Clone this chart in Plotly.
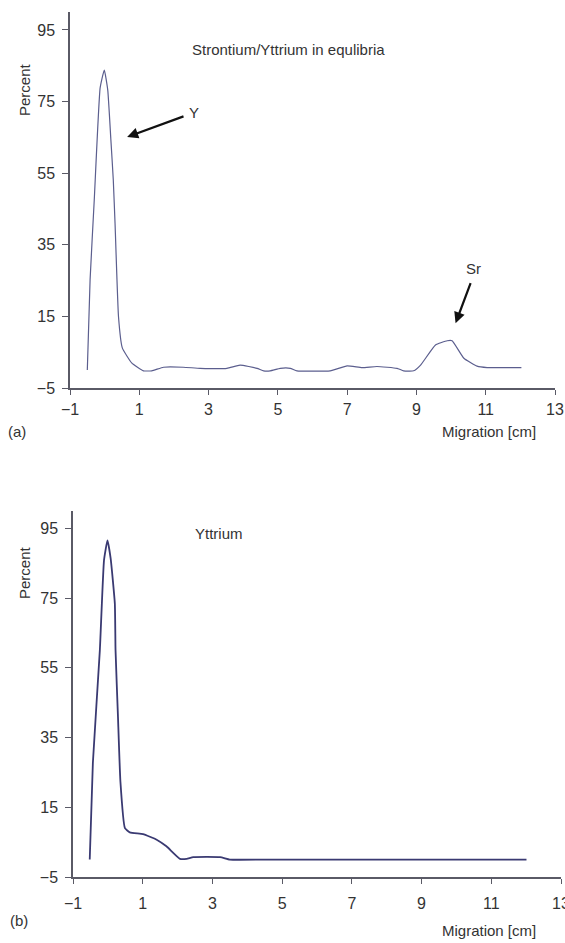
import plotly.graph_objects as go

# ---- data ----
top_x = [-0.5, -0.42, -0.3, -0.13, -0.01, 0.09, 0.18, 0.25, 0.30, 0.40, 0.51, 0.78, 1.12, 1.36, 1.70,
         2.27, 2.76, 3.53, 3.91, 4.40, 4.59, 4.78, 5.07, 5.36, 5.55, 6.51, 7.00, 7.43, 7.86, 8.44,
         8.63, 8.92, 9.12, 9.55, 9.89, 10.03, 10.37, 10.75, 11.04, 12.03]
top_y = [0, 25.2, 47.5, 78.8, 83.8, 78.2, 64.3, 53, 41, 14.9, 6.2, 2, -0.2, -0.2, 0.8,
         0.8, 0.5, 0.5, 1.4, 0.5, -0.2, -0.2, 0.5, 0.5, -0.2, -0.2, 1.2, 0.7, 1.0, 0.5,
         -0.2, -0.2, 1.4, 7.0, 8.2, 8.2, 3.3, 1.1, 0.7, 0.7]

bot_x = [-0.52, -0.43, -0.23, -0.11, -0.01, 0.08, 0.20, 0.22, 0.29, 0.36, 0.49, 0.63, 1.01, 1.40,
         1.68, 2.07, 2.26, 2.45, 3.22, 3.50, 4.5, 8.0, 12.01]
bot_y = [0, 27.7, 60.0, 85.9, 91.6, 86.4, 73.5, 60.1, 41, 22.4, 9.0, 7.8, 7.3, 5.7,
         3.8, 0.2, 0.2, 0.7, 0.7, 0, 0, 0, 0]

x_ticks = [-1, 1, 3, 5, 7, 9, 11, 13]
y_ticks = [-5, 15, 35, 55, 75, 95]

W, H = 565, 943
FONT = "Liberation Sans, Arial, Helvetica, sans-serif"
AX = "#5a5a66"
TXT = "#333333"


def px(x):
    return x / W


def py(y):
    return 1 - y / H


fig = go.Figure()
fig.add_trace(go.Scatter(x=top_x, y=top_y, mode="lines", xaxis="x", yaxis="y",
                         line=dict(color="#5b5e8e", width=1.2, shape="spline", smoothing=0.4),
                         showlegend=False, hoverinfo="skip"))
fig.add_trace(go.Scatter(x=bot_x, y=bot_y, mode="lines", xaxis="x2", yaxis="y2",
                         line=dict(color="#3a3a72", width=1.8, shape="spline", smoothing=0.4),
                         showlegend=False, hoverinfo="skip"))

axis_common = dict(showgrid=False, zeroline=False, showline=True, linecolor=AX, linewidth=1.5,
                   ticks="outside", tickcolor=AX, ticklen=5, tickwidth=1.2,
                   tickfont=dict(family=FONT, size=16, color=TXT), automargin=False,
                   fixedrange=True, ticklabeloverflow="allow")

fig.update_layout(
    width=W, height=H, margin=dict(l=0, r=0, t=0, b=0),
    paper_bgcolor="white", plot_bgcolor="white",
    xaxis=dict(axis_common, range=[-1, 13], tickvals=x_ticks, domain=[px(70), px(555)],
               anchor="y", ticklabelstandoff=1),
    yaxis=dict(axis_common, range=[-5, 100], tickvals=y_ticks, domain=[py(388), py(12)],
               anchor="x", ticklen=6, ticklabelstandoff=4),
    xaxis2=dict(axis_common, range=[-1, 13], tickvals=x_ticks, domain=[px(73), px(561)],
                anchor="y2", ticklabelstandoff=6),
    yaxis2=dict(axis_common, range=[-5, 100], tickvals=y_ticks, domain=[py(877), py(511)],
                anchor="x2", ticklen=6, ticklabelstandoff=4),
)

ann = []


def text(t, x, y, xanchor="center", size=15, angle=0):
    ann.append(dict(text=t, x=px(x), y=py(y), xref="paper", yref="paper", showarrow=False,
                    xanchor=xanchor, yanchor="middle", textangle=angle,
                    font=dict(family=FONT, size=size, color=TXT)))


text("Strontium/Yttrium in equlibria", 190, 49, xanchor="left", size=15)
text("Yttrium", 193, 533, xanchor="left", size=15)
text("Percent", 25, 90, size=15, angle=-90)
text("Percent", 24, 573, size=15, angle=-90)
text("(a)", 17, 431, size=15)
text("(b)", 19, 920, size=15)
text("Migration [cm]", 538, 431, xanchor="right", size=15)
text("Migration [cm]", 538, 930, xanchor="right", size=15)

# arrow labels
ann.append(dict(text="Y", x=2.57, y=71.8, xref="x", yref="y", showarrow=False, xanchor="center",
                yanchor="middle", font=dict(family=FONT, size=15, color=TXT)))
ann.append(dict(text="Sr", x=10.65, y=28.5, xref="x", yref="y", showarrow=False, xanchor="center",
                yanchor="middle", font=dict(family=FONT, size=15, color=TXT)))
# arrows
ann.append(dict(text="", x=0.65, y=65.1, xref="x", yref="y", ax=2.32, ay=71.0, axref="x", ayref="y",
                showarrow=True, arrowhead=2, arrowsize=1, arrowwidth=2.2, arrowcolor="#111111"))
ann.append(dict(text="", x=10.13, y=13.1, xref="x", yref="y", ax=10.58, ay=24.7, axref="x", ayref="y",
                showarrow=True, arrowhead=2, arrowsize=1, arrowwidth=2.2, arrowcolor="#111111"))

fig.update_layout(annotations=ann)
fig.write_html("out.html", config={"displayModeBar": False},
               post_script="document.body.style.margin='0';document.body.style.overflow='hidden';")
